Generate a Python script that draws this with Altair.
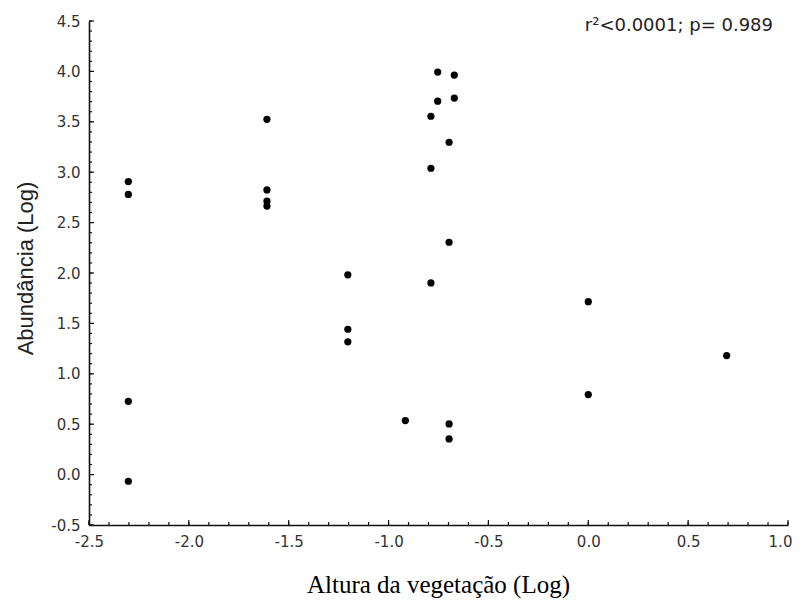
import altair as alt
import pandas as pd

# Data (natural-log scales)
x_vals = [-2.303, -2.303, -2.303, -2.303,
          -1.609, -1.609, -1.609, -1.609,
          -1.204, -1.204, -1.204,
          -0.916,
          -0.788, -0.788, -0.788,
          -0.754, -0.754,
          -0.697, -0.697, -0.697, -0.697,
          -0.671, -0.671,
          0.0, 0.0,
          0.693]
y_vals = [2.907, 2.780, 0.727, -0.066,
          3.525, 2.824, 2.713, 2.664,
          1.982, 1.442, 1.317,
          0.536,
          3.555, 3.039, 1.902,
          3.993, 3.705,
          3.297, 2.305, 0.503, 0.354,
          3.964, 3.735,
          1.716, 0.794,
          1.181]

x_major = [-2.5, -2.0, -1.5, -1.0, -0.5, 0.0, 0.5, 1.0]
y_major = [-0.5, 0.0, 0.5, 1.0, 1.5, 2.0, 2.5, 3.0, 3.5, 4.0, 4.5]
x_minor = [round(-2.5 + 0.1 * i, 1) for i in range(36)]
y_minor = [round(-0.5 + 0.1 * i, 1) for i in range(51)]

annotation = "r²<0.0001; p= 0.989"
x_title = "Altura da vegetação (Log)"
y_title = "Abundância (Log)"

W, H = 699, 504
xs = alt.Scale(domain=[-2.5, 1.0], nice=False, zero=False)
ys = alt.Scale(domain=[-0.5, 4.5], nice=False, zero=False)

label_expr = "replace(format(datum.value, '.1f'), '\u2212', '-')"

df = pd.DataFrame({"x": x_vals, "y": y_vals})

points = alt.Chart(df).mark_circle(size=52, color="black", opacity=1).encode(
    x=alt.X("x:Q", scale=xs, axis=alt.Axis(
        values=x_major, labelExpr=label_expr, ticks=False, grid=False,
        labelFlush=False, labelOverlap=False, labelBound=False,
        labelOffset={"condition": {"test": "datum.value == 1", "value": -8},
                     "value": 0},
        domainColor="#111", domainWidth=1.6,
        labelFont="DejaVu Sans", labelFontSize=15, labelColor="#333",
        labelPadding=9,
        title=x_title, titleFont="Liberation Serif", titleFontSize=25,
        titleFontWeight="normal", titleColor="black",
        titleX=349, titleY=67, titleBaseline="alphabetic", titleAlign="center")),
    y=alt.Y("y:Q", scale=ys, axis=alt.Axis(
        values=y_major, labelExpr=label_expr, ticks=False, grid=False,
        labelFlush=False, labelOverlap=False,
        domainColor="#111", domainWidth=1.6,
        labelFont="DejaVu Sans", labelFontSize=15, labelColor="#333",
        labelPadding=9,
        title=y_title, titleFont="Liberation Sans", titleFontSize=22,
        titleFontWeight="normal", titleColor="#222",
        titleX=-64, titleY=247, titleAngle=270, titleBaseline="middle",
        titleAlign="center")),
)

xminor_df = pd.DataFrame({"x": x_minor})
yminor_df = pd.DataFrame({"y": y_minor})
xmajor_df = pd.DataFrame({"x": x_major})
ymajor_df = pd.DataFrame({"y": y_major})

x_minor_ticks = alt.Chart(xminor_df).mark_rule(color="#111", strokeWidth=1.2).encode(
    x=alt.X("x:Q", scale=xs, axis=None), y=alt.value(H), y2=alt.value(H - 3))
x_major_ticks = alt.Chart(xmajor_df).mark_rule(color="#111", strokeWidth=1.2).encode(
    x=alt.X("x:Q", scale=xs, axis=None), y=alt.value(H), y2=alt.value(H - 5))
y_minor_ticks = alt.Chart(yminor_df).mark_rule(color="#111", strokeWidth=1.2).encode(
    y=alt.Y("y:Q", scale=ys, axis=None), x=alt.value(0), x2=alt.value(3))
y_major_ticks = alt.Chart(ymajor_df).mark_rule(color="#111", strokeWidth=1.2).encode(
    y=alt.Y("y:Q", scale=ys, axis=None), x=alt.value(0), x2=alt.value(5))

label = alt.Chart(pd.DataFrame({"t": [annotation]})).mark_text(
    font="DejaVu Sans", fontSize=18, color="#222", align="right",
    baseline="alphabetic").encode(
    text="t:N", x=alt.value(684), y=alt.value(10))

chart = alt.layer(points, x_minor_ticks, x_major_ticks, y_minor_ticks,
                  y_major_ticks, label).resolve_axis(
    x="independent", y="independent").properties(
    width=W, height=H,
    padding={"left": 81, "top": 13, "right": 6, "bottom": 78},
    autosize=alt.AutoSizeParams(type="none"),
    background="white",
).configure_view(stroke=None)

chart.save("out.html", embed_options={"renderer": "svg", "actions": False})
